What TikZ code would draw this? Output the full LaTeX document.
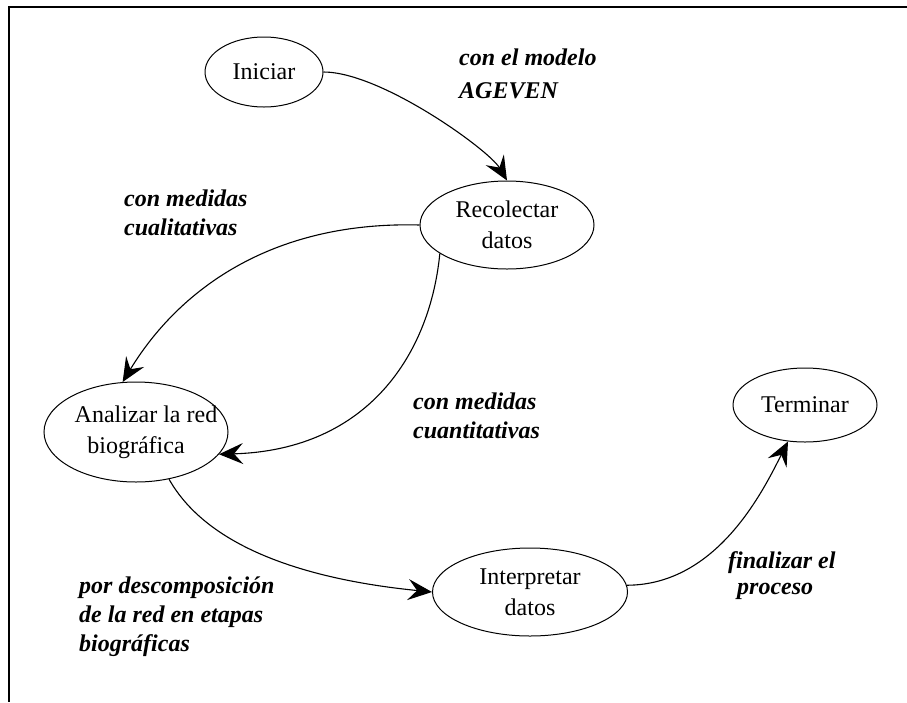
\documentclass[tikz,border=0pt]{standalone}
\usepackage{fontspec}
\setmainfont{Liberation Serif}
\usetikzlibrary{shapes.geometric,arrows.meta}

\begin{document}
\begin{tikzpicture}[x=1pt,y=1pt,yscale=-1,xscale=1,
  estado/.style={draw,ellipse,line width=1pt,inner sep=0pt,align=center,font=\fontsize{24}{31}\selectfont},
  etiqueta/.style={anchor=base west,inner sep=0pt,align=left,font=\fontsize{24}{29}\selectfont\bfseries\itshape},
  flecha/.style={line width=1.1pt,-{Stealth[length=24pt,width=21pt,inset=9pt]}}]
\useasboundingbox (0,0) rectangle (907,702);

%Frame
\draw [line width=1.5pt] (907,7) -- (9,7) -- (9,702) ;

%Shape: Ellipse
\node [estado,minimum width=118,minimum height=70] (ini) at (264,72) {Iniciar};
%Shape: Ellipse
\node [estado,minimum width=174,minimum height=88] (rec) at (507,225) {Recolectar\\datos};
%Shape: Ellipse
\node [estado,minimum width=184,minimum height=100] (ana) at (136,432) {\makebox[0pt]{\hspace{20pt}Analizar la red}\\biográfica};
%Shape: Ellipse
\node [estado,minimum width=195,minimum height=88] (int) at (530,592) {Interpretar\\datos};
%Shape: Ellipse
\node [estado,minimum width=144,minimum height=74] (ter) at (805,405) {Terminar};

%Curve Lines
\draw [flecha] (ini.east) .. controls (381,72) and (489,150) .. (rec.north) ;
%Curve Lines
\draw [flecha] (rec.west) .. controls (270,221) and (178,291) .. (ana.105) ;
%Curve Lines
\draw [flecha] (rec.203) .. controls (430,354) and (368,450) .. (ana.-15) ;
%Curve Lines
\draw [flecha] (ana.-55) .. controls (209,550) and (312,580) .. (int.west) ;
%Curve Lines
\draw [flecha] (int.4) .. controls (717,585) and (763,491) .. (ter.245) ;

% Text Node
\node [etiqueta] (modelo) at (459,98) {con el modelo\\[4pt]AGEVEN};
% Text Node
\node [etiqueta] (cuali) at (124,235) {con medidas\\cualitativas};
% Text Node
\node [etiqueta] (cuanti) at (413,438) {con medidas\\cuantitativas};
% Text Node
\node [etiqueta] (descomp) at (79,651) {por descomposición\\de la red en etapas\\biográficas};
% Text Node
\node [etiqueta] (final) at (728,594) {finalizar el\\[-3pt]\hspace{9pt}proceso};

\end{tikzpicture}
\end{document}
